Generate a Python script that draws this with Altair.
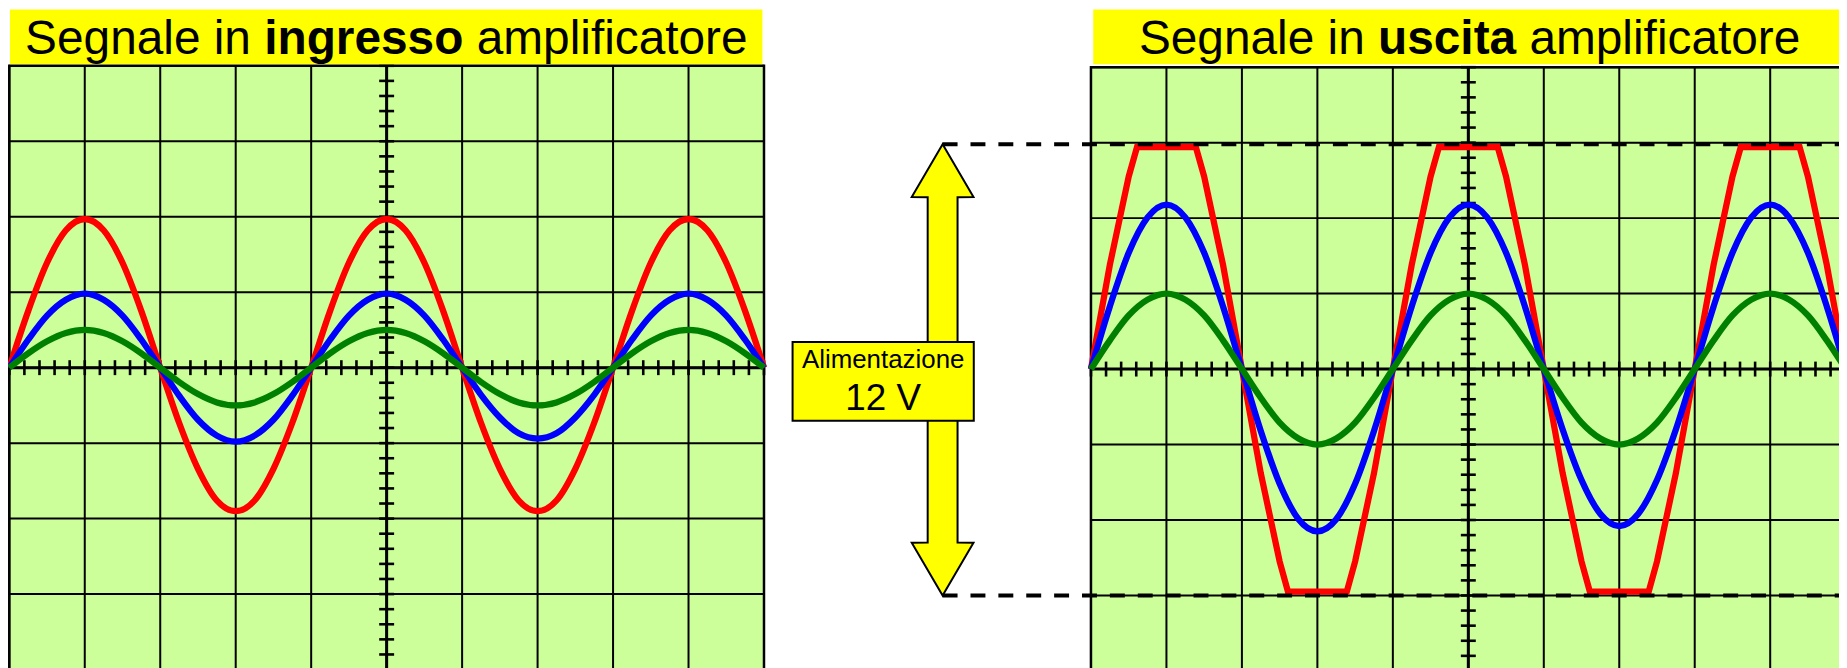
import altair as alt
import pandas as pd

# ---------------- values (unit = one screen division) ----------------
X_SAMPLES = [i * 0.25 for i in range(41)]  # sample positions along the time axis, 0..10 div

IN_RED = [0, 0.75, 1.39, 1.82, 1.97, 1.82, 1.39, 0.75,
          0, -0.73, -1.34, -1.76, -1.90, -1.76, -1.34, -0.73,
          0, 0.75, 1.39, 1.82, 1.97, 1.82, 1.39, 0.75,
          0, -0.73, -1.34, -1.76, -1.90, -1.76, -1.34, -0.73,
          0, 0.75, 1.39, 1.82, 1.97, 1.82, 1.39, 0.75, 0]
IN_BLUE = [0, 0.37, 0.69, 0.90, 0.98, 0.90, 0.69, 0.37,
           0, -0.37, -0.69, -0.90, -0.98, -0.90, -0.69, -0.37,
           0, 0.37, 0.69, 0.90, 0.98, 0.90, 0.69, 0.37,
           0, -0.36, -0.66, -0.87, -0.94, -0.87, -0.66, -0.36,
           0, 0.37, 0.69, 0.90, 0.98, 0.90, 0.69, 0.37, 0]
IN_GREEN = [0, 0.19, 0.35, 0.46, 0.50, 0.46, 0.35, 0.19,
            0, -0.19, -0.35, -0.46, -0.50, -0.46, -0.35, -0.19,
            0, 0.19, 0.35, 0.46, 0.50, 0.46, 0.35, 0.19,
            0, -0.19, -0.35, -0.46, -0.50, -0.46, -0.35, -0.19,
            0, 0.19, 0.35, 0.46, 0.50, 0.46, 0.35, 0.19, 0]

OUT_GREEN = [0, 0.38, 0.71, 0.92, 1.00, 0.92, 0.71, 0.38,
             0, -0.38, -0.71, -0.92, -1.00, -0.92, -0.71, -0.38,
             0, 0.38, 0.71, 0.92, 1.00, 0.92, 0.71, 0.38,
             0, -0.38, -0.71, -0.92, -1.00, -0.92, -0.71, -0.38,
             0, 0.38, 0.71, 0.92, 1.00, 0.92, 0.71, 0.38, 0]
OUT_BLUE = [0, 0.83, 1.54, 2.01, 2.18, 2.01, 1.54, 0.83,
            0, -0.82, -1.52, -1.99, -2.15, -1.99, -1.52, -0.82,
            0, 0.83, 1.54, 2.01, 2.18, 2.01, 1.54, 0.83,
            0, -0.80, -1.47, -1.92, -2.08, -1.92, -1.47, -0.80,
            0, 0.83, 1.54, 2.01, 2.18, 2.01, 1.54, 0.83, 0]
OUT_RED_X = [0, 0.25, 0.5, 0.61, 1.39, 1.5, 1.75,
             2, 2.25, 2.5, 2.61, 3.39, 3.5, 3.75,
             4, 4.25, 4.5, 4.61, 5.39, 5.5, 5.75,
             6, 6.25, 6.5, 6.61, 7.39, 7.5, 7.75,
             8, 8.25, 8.5, 8.61, 9.39, 9.5, 9.75, 10]
OUT_RED = [0, 1.38, 2.55, 2.94, 2.94, 2.55, 1.38,
           0, -1.38, -2.55, -2.95, -2.95, -2.55, -1.38,
           0, 1.38, 2.55, 2.94, 2.94, 2.55, 1.38,
           0, -1.38, -2.55, -2.95, -2.95, -2.55, -1.38,
           0, 1.38, 2.55, 2.94, 2.94, 2.55, 1.38, 0]

SUPPLY = [2.98, -3.00]          # supply rails drawn as dashed lines (div)
# title pieces: (text, weight, advance width in em incl. spaces, leading space in em)
TITLE_IN = [("Segnale in", "normal", 5.003, 0.0), ("ingresso", "bold", 4.168, 0.0),
            ("amplificatore", "normal", 5.946, 0.278)]
TITLE_OUT = [("Segnale in", "normal", 5.003, 0.0), ("uscita", "bold", 2.890, 0.0),
             ("amplificatore", "normal", 5.946, 0.278)]
LABEL_LINES = ["Alimentazione", "12 V"]

# ---------------- layout ----------------
PX = 75.8                 # pixels per division
W, H = 1839, 660
L_X0, L_Y0 = 9.3, 367.8   # page px of left screen origin (left edge, centre line)
R_X0, R_Y0 = 1095.7, 369.2
FONT = "Liberation Sans"
GREEN_BG = "#CCFF99"
YELLOW = "#FFFF00"
LW = 6.3


def ux(px):
    return (px - L_X0) / PX


def uy(py):
    return (L_Y0 - py) / PX


def dpx(n):
    return n / PX


xs = alt.Scale(domain=[ux(8), ux(8 + W)], nice=False, zero=False)
ys = alt.Scale(domain=[uy(8 + H), uy(8)], nice=False, zero=False)


def X(f):
    return alt.X(f, type="quantitative", scale=xs, axis=None)


def Y(f):
    return alt.Y(f, type="quantitative", scale=ys, axis=None)


PANELS = [(0.0, 0.0), (ux(R_X0), uy(R_Y0))]

bg = pd.DataFrame([{"x": dx, "x2": dx + 10, "y": dy - 4, "y2": dy + 4} for dx, dy in PANELS])
gv = pd.DataFrame([{"x": dx + i, "y": dy - 4, "y2": dy + 4} for dx, dy in PANELS for i in range(11)])
gh = pd.DataFrame([{"y": dy + j, "x": dx, "x2": dx + 10} for dx, dy in PANELS for j in range(-4, 5)])
cv = pd.DataFrame([{"x": dx + 5, "y": dy - 4, "y2": dy + 4} for dx, dy in PANELS])
ch = pd.DataFrame([{"y": dy, "x": dx, "x2": dx + 10} for dx, dy in PANELS])
t = dpx(7.5)
tick_h = pd.DataFrame([{"x": dx + k * 0.2, "y": dy - t, "y2": dy + t}
                       for dx, dy in PANELS for k in range(51)])
tick_v = pd.DataFrame([{"y": dy + k * 0.2, "x": dx + 5 - t, "x2": dx + 5 + t}
                       for dx, dy in PANELS for k in range(-20, 21)])

layers = []
layers.append(alt.Chart(bg).mark_rect(color=GREEN_BG).encode(x=X("x"), x2="x2", y=Y("y"), y2="y2"))
layers.append(alt.Chart(gv).mark_rule(color="black", strokeWidth=2).encode(x=X("x"), y=Y("y"), y2="y2"))
layers.append(alt.Chart(gh).mark_rule(color="black", strokeWidth=2).encode(y=Y("y"), x=X("x"), x2="x2"))
layers.append(alt.Chart(cv).mark_rule(color="black", strokeWidth=3).encode(x=X("x"), y=Y("y"), y2="y2"))
layers.append(alt.Chart(ch).mark_rule(color="black", strokeWidth=3).encode(y=Y("y"), x=X("x"), x2="x2"))
layers.append(alt.Chart(tick_h).mark_rule(color="black", strokeWidth=2.6).encode(x=X("x"), y=Y("y"), y2="y2"))
layers.append(alt.Chart(tick_v).mark_rule(color="black", strokeWidth=2.6).encode(y=Y("y"), x=X("x"), x2="x2"))
layers.append(alt.Chart(bg).mark_rect(fillOpacity=0, stroke="black", strokeWidth=2.5)
              .encode(x=X("x"), x2="x2", y=Y("y"), y2="y2"))

curves = [
    (PANELS[0], X_SAMPLES, IN_RED, "#FF0000", "monotone"),
    (PANELS[0], X_SAMPLES, IN_BLUE, "#0000FF", "monotone"),
    (PANELS[0], X_SAMPLES, IN_GREEN, "#008000", "monotone"),
    (PANELS[1], OUT_RED_X, OUT_RED, "#FF0000", "linear"),
    (PANELS[1], X_SAMPLES, OUT_BLUE, "#0000FF", "monotone"),
    (PANELS[1], X_SAMPLES, OUT_GREEN, "#008000", "monotone"),
]
for (dx, dy), xv, yv, col, interp in curves:
    d = pd.DataFrame({"x": [dx + a for a in xv], "y": [dy + b for b in yv], "i": list(range(len(xv)))})
    layers.append(alt.Chart(d).mark_line(color=col, strokeWidth=LW, interpolate=interp, clip=True)
                  .encode(x=X("x"), y=Y("y"), order="i:Q"))

# title boxes
tb = pd.DataFrame([
    {"x": ux(10), "x2": ux(765.7), "y": uy(63), "y2": uy(6)},
    {"x": ux(1098), "x2": ux(1870), "y": uy(63), "y2": uy(6)},
])
layers.append(alt.Chart(tb).mark_rect(color=YELLOW, clip=True).encode(x=X("x"), x2="x2", y=Y("y"), y2="y2"))

FS = 48
rows = []
for segs, centre in [(TITLE_IN, 388.0), (TITLE_OUT, 1476.0)]:
    total = sum(s[2] for s in segs) * FS
    pos = centre - total / 2
    for text, wgt, em, lead in segs:
        rows.append({"x": ux(pos + lead * FS), "y": uy(53), "text": text, "w": wgt})
        pos += em * FS
tt = pd.DataFrame(rows)
for wgt in ["normal", "bold"]:
    layers.append(alt.Chart(tt[tt.w == wgt]).mark_text(align="left", baseline="alphabetic", font=FONT,
                                                       fontSize=FS, fontWeight=wgt, color="black")
                  .encode(x=X("x"), y=Y("y"), text="text:N"))

# dashed supply rails
dy_r = PANELS[1][1]
ax = ux(946.7)
dl = pd.DataFrame([{"y": dy_r + s, "x": ax, "x2": ux(1870)} for s in SUPPLY])
layers.append(alt.Chart(dl).mark_rule(color="black", strokeWidth=4, strokeDash=[15, 13], clip=True)
              .encode(y=Y("y"), x=X("x"), x2="x2"))

# double arrow
top = dy_r + SUPPLY[0]
bot = dy_r + SUPPLY[1]
hh, hw, sw = dpx(53), dpx(31), dpx(15)
arrow = pd.DataFrame([
    {"v": bot, "xl": ax, "xr": ax},
    {"v": bot + hh, "xl": ax - hw, "xr": ax + hw},
    {"v": bot + hh + 0.004, "xl": ax - sw, "xr": ax + sw},
    {"v": top - hh - 0.004, "xl": ax - sw, "xr": ax + sw},
    {"v": top - hh, "xl": ax - hw, "xr": ax + hw},
    {"v": top, "xl": ax, "xr": ax},
])
layers.append(alt.Chart(arrow).mark_area(orient="horizontal", fill=YELLOW, stroke="black", strokeWidth=2,
                                         interpolate="linear")
              .encode(y=Y("v"), x=X("xl"), x2="xr"))

# label box
lb = pd.DataFrame([{"x": ux(796), "x2": ux(978), "y": uy(421), "y2": uy(342)}])
layers.append(alt.Chart(lb).mark_rect(fill=YELLOW, stroke="black", strokeWidth=2)
              .encode(x=X("x"), x2="x2", y=Y("y"), y2="y2"))
lt = pd.DataFrame([
    {"x": ux(887), "y": uy(368.5), "text": LABEL_LINES[0], "fs": 26},
    {"x": ux(887), "y": uy(410.5), "text": LABEL_LINES[1], "fs": 37},
])
for _, r in lt.iterrows():
    layers.append(alt.Chart(lt[lt.text == r.text]).mark_text(align="center", baseline="alphabetic", font=FONT,
                                                            fontSize=int(r.fs), color="black")
                  .encode(x=X("x"), y=Y("y"), text="text:N"))

chart = alt.layer(*layers).properties(
    width=W, height=H, padding=0, background="white",
    autosize=alt.AutoSizeParams(type="none"),
).configure_view(stroke=None)

chart.save("out.html", embed_options={"renderer": "svg", "actions": False})
